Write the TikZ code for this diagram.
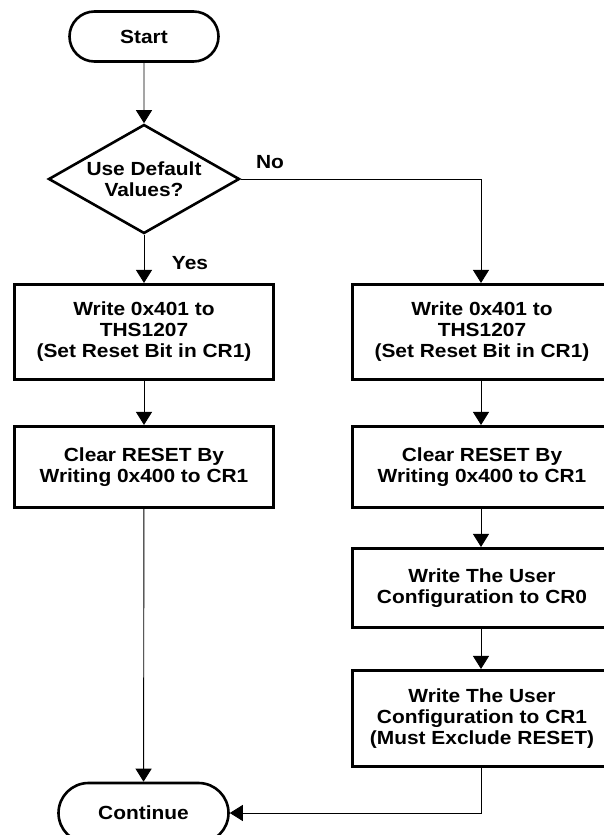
\documentclass[tikz,border=0pt]{standalone}
\usepackage{fontspec}
\setmainfont{Liberation Sans}[FakeStretch=1.1]
\usetikzlibrary{shapes.geometric,shapes.misc,arrows.meta}
\begin{document}
\begin{tikzpicture}[x=1pt,y=-1pt,
  txt/.style={align=center,font=\fontsize{19}{21}\selectfont\bfseries,inner sep=0pt},
  box/.style={txt,draw,line width=2.6pt,minimum width=259pt},
  term/.style={txt,draw,rounded rectangle,line width=2.6pt},
  conn/.style={line width=0.9pt,-{Triangle[width=16pt,length=13pt]}},
  lbl/.style={font=\fontsize{19}{21}\selectfont\bfseries,inner sep=0pt}]
\useasboundingbox (0,0) rectangle (604,835);
\node[term,minimum width=149pt,minimum height=50pt] (start) at (144,36.5) {Start};
\node[txt,draw,diamond,aspect=1.75,line width=2.6pt,minimum width=191pt,minimum height=109pt] (dec) at (144,179) {Use Default\\Values?};
\node[box,minimum height=95.5pt] (l1) at (144,332) {Write 0x401 to\\THS1207\\(Set Reset Bit in CR1)};
\node[box,minimum height=81.5pt] (l2) at (144,467) {Clear RESET By\\Writing 0x400 to CR1};
\node[box,minimum height=95.5pt] (r1) at (482,332) {Write 0x401 to\\THS1207\\(Set Reset Bit in CR1)};
\node[box,minimum height=81.5pt] (r2) at (482,467) {Clear RESET By\\Writing 0x400 to CR1};
\node[box,minimum height=79.5pt] (r3) at (482,588) {Write The User\\Configuration to CR0};
\node[box,minimum height=96.5pt] (r4) at (482,718.5) {Write The User\\Configuration to CR1\\(Must Exclude RESET)};
\node[term,minimum width=170pt,minimum height=60pt] (cont) at (143.5,813) {Continue};
\coordinate (nocorner) at (481,179);
\node[lbl] (yes) at (190,263) {Yes};
\node[lbl] (no) at (270,162) {No};
\draw[conn] (start) -- (dec);
\draw[conn] (dec) -- (l1);
\draw[line width=0.9pt] (dec.east) -- (nocorner);
\draw[conn] (nocorner) -- (nocorner |- r1.north);
\draw[conn] (l1) -- (l2);
\draw[conn] (l2) -- (cont);
\draw[conn] (r1.south -| nocorner) -- (r2.north -| nocorner);
\draw[conn] (r2.south -| nocorner) -- (r3.north -| nocorner);
\draw[conn] (r3.south -| nocorner) -- (r4.north -| nocorner);
\draw[conn] (r4.south -| nocorner) |- (cont.east);
\end{tikzpicture}
\end{document}
